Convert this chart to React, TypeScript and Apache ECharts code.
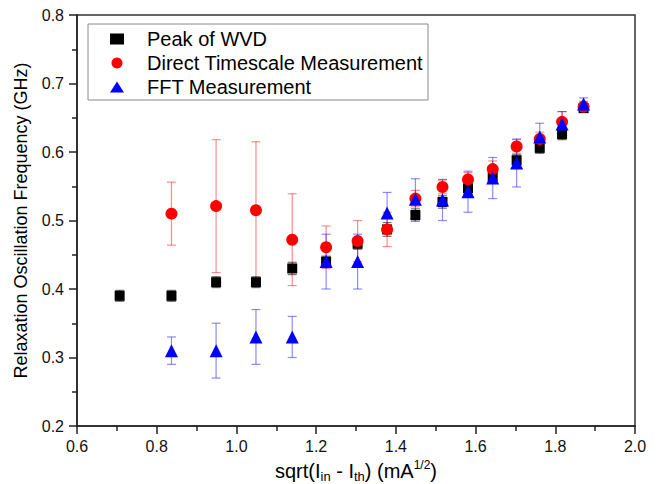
import React, { useEffect, useRef } from "react";
import * as echarts from "echarts";

const xVals = [0.707, 0.837, 0.949, 1.049, 1.14, 1.225, 1.304, 1.378, 1.449, 1.517, 1.581, 1.643, 1.703, 1.761, 1.817, 1.871];

const wvdX = xVals;
const wvdY = [0.39, 0.39, 0.41, 0.41, 0.43, 0.44, 0.466, 0.487, 0.508, 0.527, 0.547, 0.564, 0.588, 0.606, 0.626, 0.664];
const wvdErr = [0.008, 0.008, 0.008, 0.008, 0.009, 0.008, 0.008, 0.01, 0.009, 0.009, 0.009, 0.009, 0.008, 0.008, 0.008, 0.006];

const directX = [0.837, 0.949, 1.049, 1.14, 1.225, 1.304, 1.378, 1.449, 1.517, 1.581, 1.643, 1.703, 1.761, 1.817, 1.871];
const directY = [0.51, 0.521, 0.515, 0.472, 0.461, 0.47, 0.487, 0.532, 0.549, 0.56, 0.575, 0.608, 0.619, 0.644, 0.666];
const directErr = [0.046, 0.097, 0.1, 0.067, 0.031, 0.03, 0.025, 0.012, 0.01, 0.01, 0.012, 0.01, 0.01, 0.015, 0.008];

const fftX = [0.837, 0.949, 1.049, 1.14, 1.225, 1.304, 1.378, 1.449, 1.517, 1.581, 1.643, 1.703, 1.761, 1.817, 1.871];
const fftY = [0.31, 0.31, 0.33, 0.33, 0.44, 0.44, 0.511, 0.531, 0.53, 0.542, 0.562, 0.584, 0.622, 0.641, 0.67];
const fftErr = [0.02, 0.04, 0.04, 0.03, 0.04, 0.04, 0.03, 0.03, 0.03, 0.03, 0.03, 0.035, 0.02, 0.018, 0.009];

const xTicks = { min: 0.6, max: 2.0, interval: 0.2 };
const yTicks = { min: 0.2, max: 0.8, interval: 0.1 };

const FONT = "'Liberation Sans', Arial, sans-serif";

function errData(xs: number[], ys: number[], es: number[]) {
  return xs.map((x, i) => [x, ys[i] - es[i], ys[i] + es[i]]);
}

function errSeries(name: string, data: number[][], color: string) {
  return {
    type: "custom",
    name: name + "_err",
    data,
    encode: { x: 0, y: [1, 2] },
    silent: true,
    z: 1,
    renderItem: (params: any, api: any) => {
      const x = api.value(0);
      const lo = api.coord([x, api.value(1)]);
      const hi = api.coord([x, api.value(2)]);
      const cap = 4.5;
      const style = { stroke: color, lineWidth: 1.2 };
      return {
        type: "group",
        children: [
          { type: "line", shape: { x1: lo[0], y1: lo[1], x2: hi[0], y2: hi[1] }, style },
          { type: "line", shape: { x1: lo[0] - cap, y1: lo[1], x2: lo[0] + cap, y2: lo[1] }, style },
          { type: "line", shape: { x1: hi[0] - cap, y1: hi[1], x2: hi[0] + cap, y2: hi[1] }, style },
        ],
      };
    },
  };
}

export default function App() {
  const ref = useRef<HTMLDivElement>(null);
  useEffect(() => {
    if (!ref.current) return;
    const chart = echarts.init(ref.current, undefined, { renderer: "svg" });
    chart.setOption({
      animation: false,
      backgroundColor: "#ffffff",
      textStyle: { fontFamily: FONT },
      grid: {
        left: 77,
        right: 24,
        top: 15,
        bottom: 58,
        containLabel: false,
        outerBoundsMode: "none",
        show: true,
        borderColor: "#333",
        borderWidth: 1.5,
        backgroundColor: "transparent",
      },
      legend: {
        orient: "vertical",
        left: 88,
        top: 24,
        padding: [5, 5, 3, 22],
        itemGap: 4,
        itemWidth: 14,
        itemHeight: 11,
        borderColor: "#888",
        borderWidth: 1,
        backgroundColor: "#fff",
        textStyle: { fontSize: 20, fontFamily: FONT, color: "#000", padding: [0, 0, 0, 18] },
        data: ["Peak of WVD", "Direct Timescale Measurement", "FFT Measurement"],
      },
      xAxis: {
        type: "value",
        min: xTicks.min,
        max: xTicks.max,
        interval: xTicks.interval,
        name: "{n|sqrt(I}{s|in}{n| - I}{s|th}{n|) (mA}{p|1/2}{n|)}",
        nameLocation: "middle",
        nameGap: 20,
        nameTextStyle: {
          rich: {
            n: { fontSize: 20, fontFamily: FONT, color: "#000", lineHeight: 24, verticalAlign: "middle" },
            s: { fontSize: 13, fontFamily: FONT, color: "#000", lineHeight: 24, verticalAlign: "bottom", padding: [11, 0, 0, 0] },
            p: { fontSize: 12, fontFamily: FONT, color: "#000", lineHeight: 24, verticalAlign: "top", padding: [0, 0, 9, 0] },
          },
        },
        axisLine: { show: true, onZero: false, lineStyle: { color: "#222", width: 1.5 } },
        axisTick: { show: true, inside: false, length: 8, lineStyle: { color: "#222", width: 1.5 } },
        minorTick: { show: true, splitNumber: 2, length: 5, lineStyle: { color: "#222", width: 1.5 } },
        splitLine: { show: false },
        axisLabel: { fontSize: 16, color: "#111", margin: 12, fontFamily: FONT, formatter: (v: number) => v.toFixed(1) },
      },
      yAxis: {
        type: "value",
        min: yTicks.min,
        max: yTicks.max,
        interval: yTicks.interval,
        name: "Relaxation Oscillation Frequency (GHz)",
        nameLocation: "middle",
        nameGap: 47,
        nameTextStyle: { fontSize: 18, fontFamily: FONT, color: "#000" },
        axisLine: { show: true, onZero: false, lineStyle: { color: "#222", width: 1.5 } },
        axisTick: { show: true, inside: false, length: 8, lineStyle: { color: "#222", width: 1.5 } },
        minorTick: { show: true, splitNumber: 2, length: 5, lineStyle: { color: "#222", width: 1.5 } },
        splitLine: { show: false },
        axisLabel: { fontSize: 16, color: "#111", margin: 13, fontFamily: FONT, formatter: (v: number) => v.toFixed(1) },
      },
      series: [
        errSeries("Peak of WVD", errData(wvdX, wvdY, wvdErr), "rgba(0,0,0,0.55)"),
        {
          type: "scatter",
          name: "Peak of WVD",
          data: wvdX.map((x, i) => [x, wvdY[i]]),
          symbol: "rect",
          symbolSize: 10,
          itemStyle: { color: "#000", opacity: 1 },
          z: 2,
        },
        errSeries("Direct Timescale Measurement", errData(directX, directY, directErr), "rgba(255,0,0,0.45)"),
        {
          type: "scatter",
          name: "Direct Timescale Measurement",
          data: directX.map((x, i) => [x, directY[i]]),
          symbol: "circle",
          symbolSize: 12,
          itemStyle: { color: "#ff0000", opacity: 1 },
          z: 3,
        },
        errSeries("FFT Measurement", errData(fftX, fftY, fftErr), "rgba(0,0,255,0.45)"),
        {
          type: "scatter",
          name: "FFT Measurement",
          data: fftX.map((x, i) => [x, fftY[i]]),
          symbol: "triangle",
          symbolSize: 13,
          itemStyle: { color: "#0000ff", opacity: 1 },
          z: 4,
        },
      ],
    });
    return () => chart.dispose();
  }, []);
  return (
    <div
      ref={ref}
      style={{ position: "absolute", left: 0, top: 0, width: 659, height: 484 }}
    />
  );
}
